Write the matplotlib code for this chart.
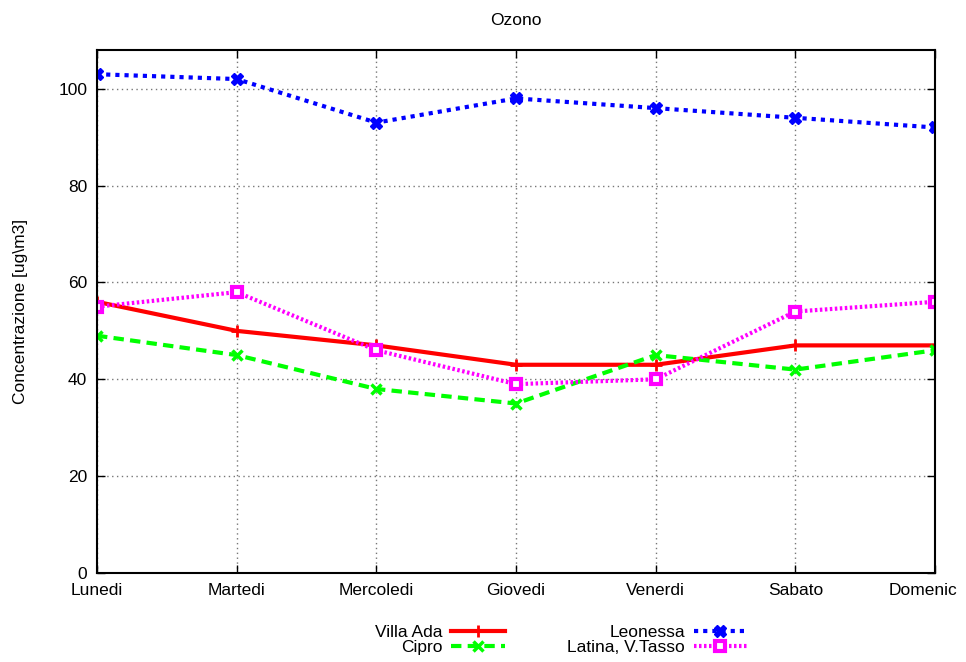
import matplotlib
matplotlib.use("Agg")
import matplotlib.pyplot as plt
from matplotlib.transforms import ScaledTranslation

plt.rcParams['font.family'] = ['Liberation Sans', 'DejaVu Sans']

days = ["Lunedi", "Martedi", "Mercoledi", "Giovedi", "Venerdi", "Sabato", "Domenic"]
villa_ada = [56, 50, 47, 43, 43, 47, 47]
cipro = [49, 45, 38, 35, 45, 42, 46]
leonessa = [103, 102, 93, 98, 96, 94, 92]
latina = [55, 58, 46, 39, 40, 54, 56]
yticks = [0, 20, 40, 60, 80, 100]

FS = 12.5

fig = plt.figure(figsize=(9.66, 6.62), dpi=100)
ax = fig.add_axes([97/966, 89/662, (935-97)/966, (573-50)/662])

x = list(range(len(days)))
l1, = ax.plot(x, villa_ada, color='#ff0000', lw=3, marker='+', ms=8, mew=2, label='Villa Ada')
l2, = ax.plot(x, cipro, color='#00ff00', lw=3, ls=(0, (2.5, 1.5)), marker='x', ms=7, mew=2.5, label='Cipro')
l3, = ax.plot(x, leonessa, color='#0000ff', lw=3, ls=(0, (1, 1.2)), marker='X', ms=8, mew=1, mec='#0000ff', label='Leonessa')
l4, = ax.plot(x, latina, color='#ff00ff', lw=3, ls=(0, (0.6, 0.6)), marker='s', ms=7, mfc='white', mec='#ff00ff', mew=3, label='Latina, V.Tasso')

ax.set_xlim(0, 6)
ax.set_ylim(0, 108)
ax.set_xticks(x)
ax.set_xticklabels(days, fontsize=FS)
ax.set_yticks(yticks)
ax.set_yticklabels([str(v) for v in yticks], fontsize=FS)
ax.tick_params(direction='in', top=True, right=True, length=6, width=1, pad=7)
ax.grid(True, color='#777777', ls=(0, (1, 2.5)), lw=1)
for s in ax.spines.values():
    s.set_linewidth(1.5)

last = ax.get_xticklabels()[-1]
last.set_transform(last.get_transform() + ScaledTranslation(-12/100, 0, fig.dpi_scale_trans))

ax.set_ylabel("Concentrazione [ug\\m3]", fontsize=FS)
ax.yaxis.set_label_coords(-0.082, 0.5)
ax.set_title("Ozono", fontsize=FS, pad=18)

leg = fig.legend(handles=[l1, l2, l3, l4], loc='center', bbox_to_anchor=(561/966, 1-640/662),
                 ncol=2, frameon=False, markerfirst=False, fontsize=FS,
                 handlelength=3.1, columnspacing=3.6, labelspacing=0.0, handletextpad=0.5)
for t in leg.get_texts():
    t.set_ha('right')

fig.savefig("out.png", dpi=100)
